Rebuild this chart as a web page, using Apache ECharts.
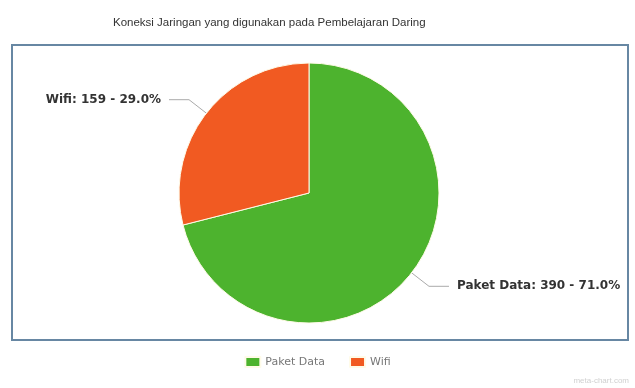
<!DOCTYPE html>
<html>
<head>
<meta charset="utf-8">
<script src="https://cdn.jsdelivr.net/npm/echarts@6/dist/echarts.min.js"></script>
<style>html,body{margin:0;padding:0;background:#fff;}#c{width:635px;height:388px;}</style>
</head>
<body>
<div id="c"></div>
<script>
const titleText = 'Koneksi Jaringan yang digunakan pada Pembelajaran Daring';
const categories = ['Paket Data', 'Wifi'];
const values = [390, 159];
const percents = ['71.0', '29.0'];
const colors = ['#4DB32E', '#F15A22'];

const chart = echarts.init(document.getElementById('c'), null, {renderer: 'canvas'});
const data = categories.map((name, i) => ({name, value: values[i], pct: percents[i], itemStyle: {color: colors[i]}}));
chart.setOption({
  animation: false,
  backgroundColor: '#fff',
  title: {
    text: titleText, left: 108, top: 12,
    textStyle: {fontFamily: 'Liberation Sans', fontSize: 11.5, fontWeight: 'normal', color: '#333'}
  },
  graphic: [
    {type: 'rect', shape: {x: 12, y: 45, width: 616, height: 295}, style: {fill: 'none', stroke: '#6787a3', lineWidth: 2}, z: 0},
    {type: 'text', right: 6, top: 377, style: {text: 'meta-chart.com', fill: '#d0d0d0', font: '8px Liberation Sans'}}
  ],
  legend: {
    bottom: 15, left: 'center', itemWidth: 15, itemHeight: 10, itemGap: 24,
    icon: 'rect',
    textStyle: {fontFamily: 'DejaVu Sans', fontSize: 11, color: '#777'},
    data: categories
  },
  series: [{
    type: 'pie',
    center: [309, 193],
    radius: 130,
    startAngle: 90,
    clockwise: true,
    data,
    itemStyle: {borderColor: '#fffbe8', borderWidth: 1},
    label: {
      show: true,
      formatter: p => `${p.name}: ${p.value} - ${p.data.pct}%`,
      fontFamily: 'DejaVu Sans', fontSize: 12, fontWeight: 'bold', color: '#333',
      distanceToLabelLine: 8,
      overflow: 'none'
    },
    labelLine: {show: true, length: 22, length2: 20, lineStyle: {color: '#aaa', width: 1}},
    emphasis: {disabled: true}
  }]
});
</script>
</body>
</html>
